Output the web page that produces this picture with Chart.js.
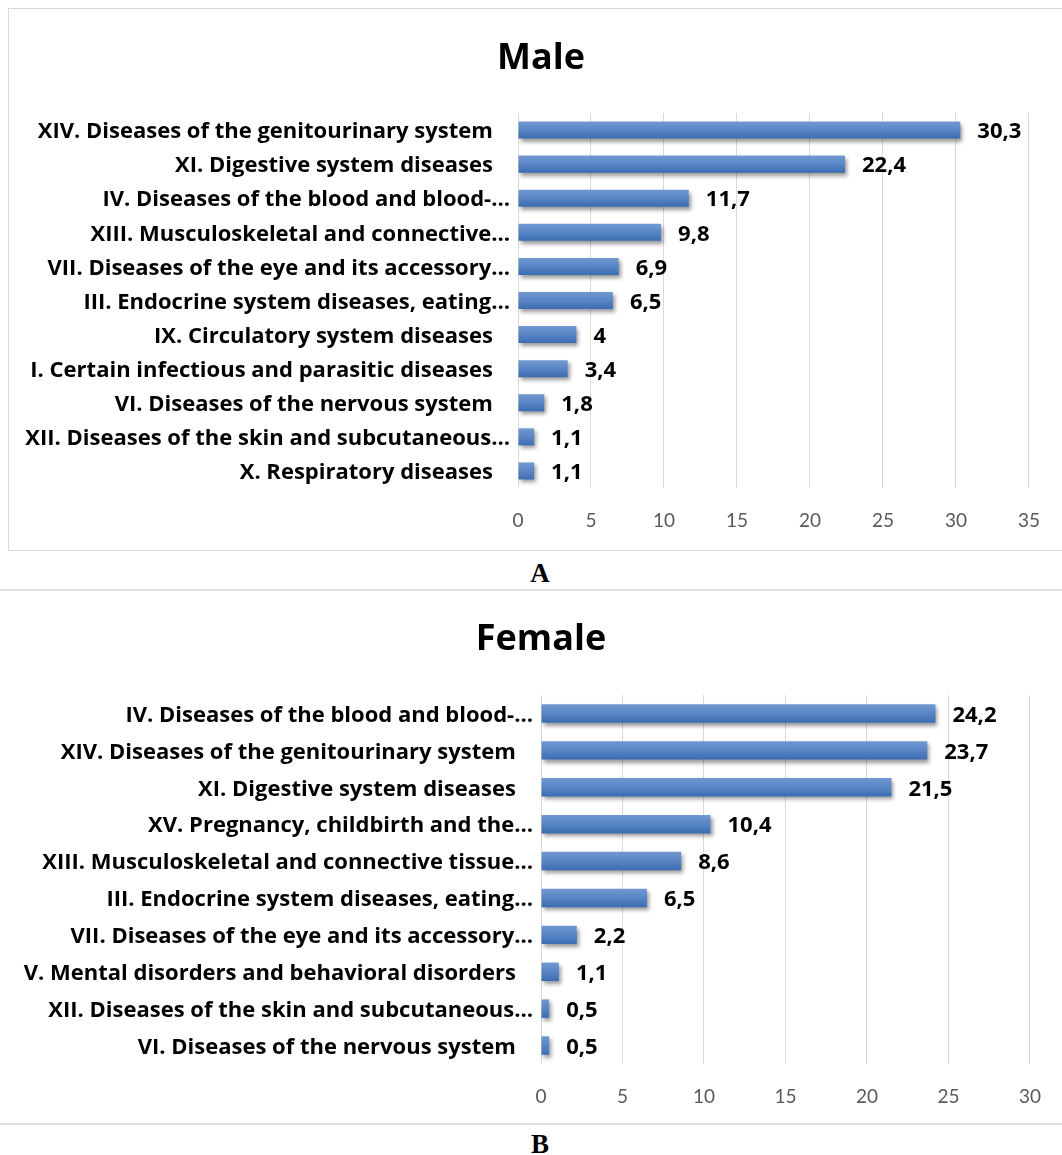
<!DOCTYPE html>
<html>
<head>
<meta charset="utf-8">
<script src="https://cdn.jsdelivr.net/npm/chart.js@4.4.1/dist/chart.umd.min.js"></script>
<style>
  html, body { margin: 0; padding: 0; background: #fff; }
  body { position: relative; width: 1062px; height: 1155px; overflow: hidden; }
  .box { position: absolute; left: 8px; top: 8px; width: 1060px; height: 541px; border: 1px solid #d9d9d9; border-right: none; }
  .rule { position: absolute; left: 0; width: 1062px; height: 0; border-top: 2px solid #e0e0e0; }
  .letter { position: absolute; left: 0; width: 1080px; text-align: center; font: bold 27px "Liberation Serif", serif; color: #000; }
  canvas { position: absolute; }
</style>
</head>
<body>
<div class="box"><canvas id="maleChart" width="1052" height="540" style="left:0;top:0;"></canvas></div>
<div class="letter" style="top:558px;">A</div>
<div class="rule" style="top:589px;"></div>
<canvas id="femaleChart" width="1062" height="532" style="left:0;top:591px;"></canvas>
<div class="rule" style="top:1123px;"></div>
<div class="letter" style="top:1129px;">B</div>

<script>
// Male (A)
const maleLabels = [
  'XIV. Diseases of the genitourinary system   ',
  'XI. Digestive system diseases   ',
  'IV. Diseases of the blood and blood-…',
  'XIII. Musculoskeletal and connective…',
  'VII. Diseases of the eye and its accessory…',
  'III. Endocrine system diseases, eating…',
  'IX. Circulatory system diseases   ',
  'I. Certain infectious and parasitic diseases   ',
  'VI. Diseases of the nervous system   ',
  'XII. Diseases of the skin and subcutaneous…',
  'X. Respiratory diseases   '
];
const maleValues = [30.3, 22.4, 11.7, 9.8, 6.9, 6.5, 4, 3.4, 1.8, 1.1, 1.1];
const maleTicks = [0, 5, 10, 15, 20, 25, 30, 35];

// Female (B)
const femaleLabels = [
  'IV. Diseases of the blood and blood-…',
  'XIV. Diseases of the genitourinary system   ',
  'XI. Digestive system diseases   ',
  'XV. Pregnancy, childbirth and the…',
  'XIII. Musculoskeletal and connective tissue…',
  'III. Endocrine system diseases, eating…',
  'VII. Diseases of the eye and its accessory…',
  'V. Mental disorders and behavioral disorders   ',
  'XII. Diseases of the skin and subcutaneous…',
  'VI. Diseases of the nervous system   '
];
const femaleValues = [24.2, 23.7, 21.5, 10.4, 8.6, 6.5, 2.2, 1.1, 0.5, 0.5];
const femaleTicks = [0, 5, 10, 15, 20, 25, 30];

(function () {
  const FONT = '"Open Sans", Lato, sans-serif';
  const TICK_FONT = 'Lato, "Open Sans", sans-serif';

  function barFill(context) {
    const chart = context.chart;
    const scale = chart.scales.y;
    if (!chart.chartArea || !scale) return '#4f7fc1';
    const count = chart.data.labels.length;
    const y = scale.getPixelForValue(context.dataIndex);
    const half = (scale.height / count) * 0.25;
    const g = chart.ctx.createLinearGradient(0, y - half, 0, y + half);
    g.addColorStop(0, '#7199d1');
    g.addColorStop(0.5, '#5985c5');
    g.addColorStop(1, '#3b6cb2');
    return g;
  }

  const barDecor = {
    id: 'barDecor',
    beforeDatasetsDraw(chart) {
      const ctx = chart.ctx;
      ctx.save();
      ctx.shadowColor = 'rgba(0, 0, 0, 0.4)';
      ctx.shadowBlur = 4;
      ctx.shadowOffsetX = 2;
      ctx.shadowOffsetY = 3;
    },
    afterDatasetsDraw(chart) {
      const ctx = chart.ctx;
      ctx.restore();
      const meta = chart.getDatasetMeta(0);
      const values = chart.data.datasets[0].data;
      ctx.save();
      ctx.font = 'bold 22px ' + FONT;
      ctx.fillStyle = '#000';
      ctx.textAlign = 'left';
      ctx.textBaseline = 'middle';
      meta.data.forEach((bar, i) => {
        ctx.fillText(String(values[i]).replace('.', ','), bar.x + 17, bar.y + 2);
      });
      ctx.restore();
    },
    afterDraw(chart, args, opts) {
      // chart title, centred on the page rather than on the padded box
      const ctx = chart.ctx;
      ctx.save();
      ctx.font = 'bold 36px ' + FONT;
      ctx.fillStyle = '#000';
      ctx.textAlign = 'center';
      ctx.textBaseline = 'middle';
      ctx.fillText(opts.text, opts.x, opts.y);
      ctx.restore();
    }
  };

  function makeChart(el, opts) {
    return new Chart(el, {
      type: 'bar',
      data: {
        labels: opts.labels,
        datasets: [{
          data: opts.values,
          backgroundColor: barFill,
          borderWidth: 0,
          barPercentage: 0.5,
          categoryPercentage: 1
        }]
      },
      plugins: [barDecor],
      options: {
        indexAxis: 'y',
        responsive: false,
        animation: false,
        layout: { padding: { left: 0, right: opts.padRight, top: opts.padTop, bottom: 0 } },
        plugins: {
          legend: { display: false },
          tooltip: { enabled: false },
          title: { display: false },
          barDecor: { text: opts.title, x: opts.titleX, y: opts.titleY }
        },
        scales: {
          x: {
            min: 0,
            max: opts.ticks[opts.ticks.length - 1],
            afterBuildTicks: (scale) => { scale.ticks = opts.ticks.map((v) => ({ value: v })); },
            grid: { color: '#d9d9d9', lineWidth: 1, drawTicks: false },
            border: { display: false },
            ticks: { color: '#595959', font: { family: TICK_FONT, size: 19 }, padding: 21 },
            afterFit: (scale) => { scale.height = opts.xHeight; }
          },
          y: {
            grid: { display: false, drawTicks: false },
            border: { display: false },
            ticks: { color: '#000', font: { family: FONT, size: 22, weight: 'bold' }, padding: 8, labelOffset: 2, autoSkip: false },
            afterFit: (scale) => { scale.width = opts.yWidth; }
          }
        }
      }
    });
  }

  makeChart(document.getElementById('maleChart'), {
    labels: maleLabels,
    values: maleValues,
    ticks: maleTicks,
    title: 'Male',
    titleX: 532,
    titleY: 50,
    padTop: 104,
    padRight: 29.5,
    yWidth: 509,
    xHeight: 61
  });

  makeChart(document.getElementById('femaleChart'), {
    labels: femaleLabels,
    values: femaleValues,
    ticks: femaleTicks,
    title: 'Female',
    titleX: 541,
    titleY: 49,
    padTop: 104,
    padRight: 20,
    yWidth: 541,
    xHeight: 59
  });
})();
</script>
</body>
</html>
